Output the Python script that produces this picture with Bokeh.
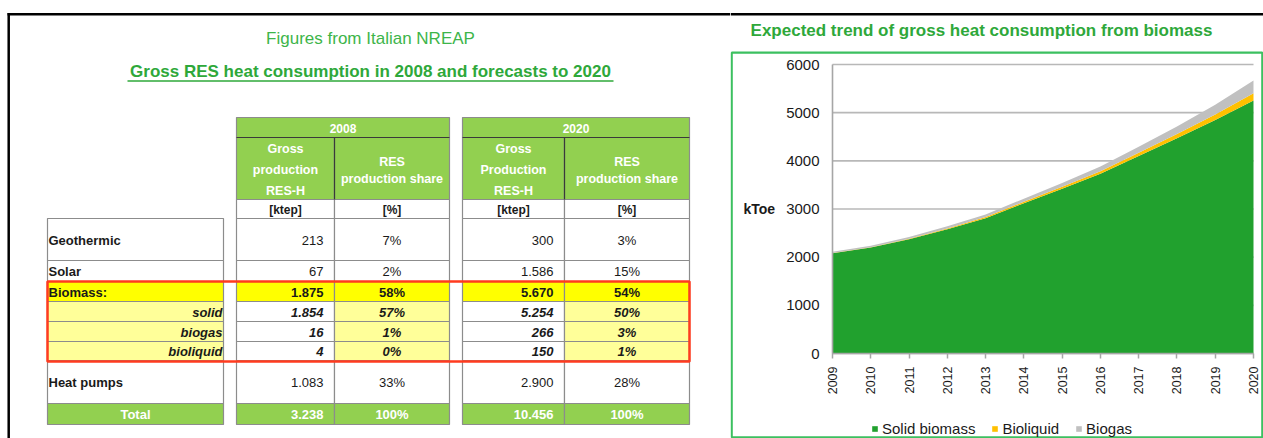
import math
from bokeh.plotting import figure
from bokeh.layouts import row
from bokeh.models import (Range1d, ColumnDataSource, Legend, LegendItem, FixedTicker,
                          LinearAxis)
from bokeh.core.properties import value
from bokeh.embed import file_html
from bokeh.resources import INLINE

# ---------------- data ----------------
left_title = "Figures from Italian NREAP"
left_subtitle = "Gross RES heat consumption in 2008 and forecasts to 2020"
right_title = "Expected trend of gross heat consumption from biomass"

row_labels = ["Geothermic", "Solar", "Biomass:", "solid", "biogas", "bioliquid",
              "Heat pumps", "Total"]
row_kinds = ["plain", "plain", "biomass", "sub", "sub", "sub", "plain", "total"]
table_years = ["2008", "2020"]
prod_header_2008 = ["Gross", "production", "RES-H"]
prod_header_2020 = ["Gross", "Production", "RES-H"]
share_header = ["RES", "production share"]
unit_labels = ["[ktep]", "[%]"]
gross_2008 = ["213", "67", "1.875", "1.854", "16", "4", "1.083", "3.238"]
share_2008 = ["7%", "2%", "58%", "57%", "1%", "0%", "33%", "100%"]
gross_2020 = ["300", "1.586", "5.670", "5.254", "266", "150", "2.900", "10.456"]
share_2020 = ["3%", "15%", "54%", "50%", "3%", "1%", "28%", "100%"]

years = [2009, 2010, 2011, 2012, 2013, 2014, 2015, 2016, 2017, 2018, 2019, 2020]
solid_biomass = [2080, 2200, 2370, 2580, 2810, 3120, 3420, 3730, 4100, 4470, 4850, 5254]
bioliquid = [5, 8, 12, 17, 22, 30, 40, 52, 66, 85, 110, 150]
biogas = [25, 30, 38, 46, 55, 65, 80, 100, 125, 160, 205, 266]
series_names = ["Solid biomass", "Bioliquid", "Biogas"]
y_ticks = [0, 1000, 2000, 3000, 4000, 5000, 6000]
y_axis_title = "kToe"

# ---------------- styles / layout ----------------
FONT = "Liberation Sans"
HDR_GREEN = "#92d050"
YELLOW = "#ffff00"
LIGHT_YELLOW = "#ffff99"
BORDER = "#8c8c8c"
TXT = "#1a1a1a"
TITLE_GREEN = "#3db54a"
BOX_GREEN = "#3cc060"
AXIS_GRAY = "#a6a6a6"
SERIES_COLORS = ["#21a12e", "#ffc000", "#c0c0c0"]

W, H = 1263, 438
LEFT_W = 730
RIGHT_W = W - LEFT_W

# table geometry (page pixel coordinates)
LABEL_COL = (47, 223)
BLOCKS = [(236, 334, 449), (462, 564, 689)]
YEAR_ROW = (117, 137)
SUB_ROW = (137, 199)
UNIT_ROW = (199, 218)
BODY_TOP = 218
ROW_H = [42, 21, 20, 20, 20, 19, 43, 21]

# ---------------- left panel: table ----------------
p1 = figure(width=LEFT_W, height=H, x_range=Range1d(0, LEFT_W), y_range=Range1d(H, 0),
            output_backend="svg", toolbar_location=None, min_border=0,
            x_axis_location=None, y_axis_location=None)
p1.grid.visible = False
p1.outline_line_color = None
p1.frame_align = False

p1.segment(x0=[7, 8.2], y0=[13.8, 12.6], x1=[LEFT_W, 8.2], y1=[13.8, H],
           line_color="black", line_width=2.5)

p1.text(x=[370], y=[38], text=[left_title], text_align="center", text_baseline="middle",
        text_font=value(FONT), text_font_size="17px", text_color=TITLE_GREEN)
p1.text(x=[370], y=[71], text=[left_subtitle], text_align="center", text_baseline="middle",
        text_font=value(FONT), text_font_size="17px", text_font_style="bold",
        text_color="#2ea83a")
p1.segment(x0=[127], y0=[80.5], x1=[613], y1=[80.5], line_color="#2ea83a", line_width=1.5)

hq = dict(left=[], right=[], top=[], bottom=[], color=[])


def add_cell(l, r, t, b, c):
    hq["left"].append(l); hq["right"].append(r); hq["top"].append(t)
    hq["bottom"].append(b); hq["color"].append(c)


for (x0, xm, x1) in BLOCKS:
    add_cell(x0, x1, YEAR_ROW[0], YEAR_ROW[1], HDR_GREEN)
    add_cell(x0, xm, SUB_ROW[0], SUB_ROW[1], HDR_GREEN)
    add_cell(xm, x1, SUB_ROW[0], SUB_ROW[1], HDR_GREEN)
    add_cell(x0, xm, UNIT_ROW[0], UNIT_ROW[1], "white")
    add_cell(xm, x1, UNIT_ROW[0], UNIT_ROW[1], "white")

tops, bottoms = [], []
y = BODY_TOP
for h in ROW_H:
    tops.append(y); bottoms.append(y + h); y += h
fills = {"plain": ("white", "white", "white"),
         "biomass": (YELLOW, YELLOW, YELLOW),
         "sub": (LIGHT_YELLOW, "white", LIGHT_YELLOW),
         "total": (HDR_GREEN, HDR_GREEN, HDR_GREEN)}
for i, kind in enumerate(row_kinds):
    lc, gc, sc = fills[kind]
    add_cell(LABEL_COL[0], LABEL_COL[1], tops[i], bottoms[i], lc)
    for (x0, xm, x1) in BLOCKS:
        add_cell(x0, xm, tops[i], bottoms[i], gc)
        add_cell(xm, x1, tops[i], bottoms[i], sc)

p1.quad(left="left", right="right", top="top", bottom="bottom", fill_color="color",
        line_color=BORDER, line_width=1.2, source=ColumnDataSource(hq))

for (x0, xm, x1) in BLOCKS:
    p1.segment(x0=[x0, xm], y0=[YEAR_ROW[1], SUB_ROW[0]], x1=[x1, xm], y1=[YEAR_ROW[1], SUB_ROW[1]],
               line_color="#3a3a3a", line_width=1.2)


def txt(xs, ys, texts, align="center", style="normal", color=TXT, size="13px"):
    p1.text(x=xs, y=ys, text=texts, text_align=align, text_baseline="middle",
            text_font=value(FONT), text_font_size=size, text_font_style=style,
            text_color=color)


for bi, (x0, xm, x1) in enumerate(BLOCKS):
    txt([(x0 + x1) / 2], [sum(YEAR_ROW) / 2 + 0.5], [table_years[bi]], style="bold",
        color="white", size="12px")
    ph = prod_header_2008 if bi == 0 else prod_header_2020
    txt([(x0 + xm) / 2] * 3, [148, 169, 190], ph, style="bold", color="white", size="12.5px")
    txt([(xm + x1) / 2] * 2, [161, 178], share_header, style="bold", color="white", size="12.5px")
    txt([(x0 + xm) / 2, (xm + x1) / 2], [sum(UNIT_ROW) / 2 + 0.5] * 2, unit_labels,
        style="bold", size="12px")

for i, kind in enumerate(row_kinds):
    yc = (tops[i] + bottoms[i]) / 2 + 0.5
    if kind in ("plain", "biomass"):
        txt([LABEL_COL[0] + 1], [yc], [row_labels[i]], align="left", style="bold")
    elif kind == "sub":
        txt([LABEL_COL[1] - 1], [yc], [row_labels[i]], align="right", style="bold italic")
    else:
        txt([(LABEL_COL[0] + LABEL_COL[1]) / 2], [yc], [row_labels[i]], style="bold",
            color="white")
    vstyle = {"plain": "normal", "biomass": "bold", "sub": "bold italic", "total": "bold"}[kind]
    vcolor = "white" if kind == "total" else TXT
    for bi, (x0, xm, x1) in enumerate(BLOCKS):
        g = gross_2008 if bi == 0 else gross_2020
        s = share_2008 if bi == 0 else share_2020
        txt([xm - 11], [yc], [g[i]], align="right", style=vstyle, color=vcolor)
        txt([(xm + x1) / 2], [yc], [s[i]], style=vstyle, color=vcolor)

p1.quad(left=[LABEL_COL[0]], right=[BLOCKS[1][2]], top=[tops[2]], bottom=[bottoms[5] + 1],
        fill_color=None, line_color="#ff3b1f", line_width=2.5)

# ---------------- right panel: area chart ----------------
# where the data extremes sit on the page (pixels); the ranges are derived from these
FRAME_L, FRAME_R, FRAME_T, FRAME_B = 832, 1253, 64, 353
kx = (years[-1] - years[0]) / (FRAME_R - FRAME_L)
ky = (y_ticks[-1] - y_ticks[0]) / (FRAME_B - FRAME_T)


def dx(px):
    return years[0] + (px - FRAME_L) * kx


def dy(py):
    return y_ticks[0] + (FRAME_B - py) * ky


p2 = figure(width=RIGHT_W, height=H,
            x_range=Range1d(dx(LEFT_W), dx(W)), y_range=Range1d(dy(H), dy(0)),
            output_backend="svg", toolbar_location=None, min_border=0,
            x_axis_location=None, y_axis_location=None)
p2.grid.visible = False
p2.outline_line_color = None

# horizontal grid lines, only across the plotting area
p2.segment(x0=[years[0]] * len(y_ticks), x1=[years[-1]] * len(y_ticks), y0=y_ticks, y1=y_ticks,
           line_color="#b8b8b8", line_width=1.6)

src = ColumnDataSource(dict(year=years, solid=solid_biomass, bioliquid=bioliquid, biogas=biogas))
rs = p2.varea_stack(["solid", "bioliquid", "biogas"], x="year", color=SERIES_COLORS, source=src)

yaxis = LinearAxis(fixed_location=years[0], bounds=(y_ticks[0], y_ticks[-1]),
                   ticker=FixedTicker(ticks=y_ticks),
                   axis_line_color=AXIS_GRAY, axis_line_width=1.6,
                   major_tick_out=0, major_tick_in=0, minor_tick_out=0, minor_tick_in=0,
                   major_label_standoff=13, major_label_text_font=FONT,
                   major_label_text_font_size="15px", major_label_text_color=TXT,
                   axis_label=y_axis_title, axis_label_orientation="horizontal",
                   axis_label_text_font=FONT, axis_label_text_font_size="14px",
                   axis_label_text_font_style="bold", axis_label_text_color=TXT,
                   axis_label_standoff=8)
p2.add_layout(yaxis, "left")

xaxis = LinearAxis(fixed_location=y_ticks[0], bounds=(years[0], years[-1]),
                   ticker=FixedTicker(ticks=years),
                   axis_line_color=AXIS_GRAY, axis_line_width=1.6,
                   major_tick_out=5, major_tick_in=0, minor_tick_out=0, minor_tick_in=0,
                   major_tick_line_color=AXIS_GRAY, major_tick_line_width=1.5,
                   major_label_orientation=math.pi / 2, major_label_standoff=8,
                   major_label_text_font=FONT, major_label_text_font_size="12.5px",
                   major_label_text_color=TXT)
p2.add_layout(xaxis, "below")

# title, frame lines and chart box (decorations placed in page pixels)
p2.segment(x0=[dx(LEFT_W)], y0=[dy(13.8)], x1=[dx(W)], y1=[dy(13.8)],
           line_color="black", line_width=2.5)
p2.text(x=[dx(981)], y=[dy(30)], text=[right_title], text_align="center",
        text_baseline="middle", text_font=value(FONT), text_font_size="17px",
        text_font_style="bold", text_color="#2ea83a")
p2.quad(left=[dx(731.2)], right=[dx(1261.8)], top=[dy(52.2)], bottom=[dy(436.8)],
        fill_color=None, line_color=BOX_GREEN, line_width=2.2)

legend = Legend(items=[LegendItem(label=series_names[k], renderers=[rs[k]]) for k in range(3)],
                orientation="horizontal", location=(871 - LEFT_W, 1),
                border_line_color=None, background_fill_alpha=0,
                glyph_width=7, glyph_height=7, label_standoff=4, spacing=16,
                padding=0, margin=0, label_height=17,
                label_text_font=FONT, label_text_font_size="15px", label_text_color=TXT)
p2.add_layout(legend)

layout = row(p1, p2, spacing=0)
open("out.html", "w").write(file_html(layout, INLINE))
